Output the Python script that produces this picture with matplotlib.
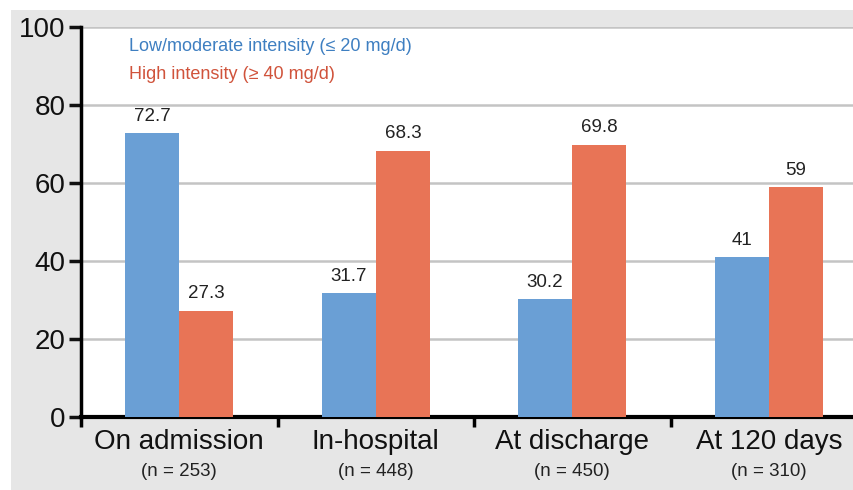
import matplotlib.pyplot as plt
from matplotlib.patches import Rectangle
import numpy as np

plt.rcParams['font.family'] = ['Liberation Sans', 'DejaVu Sans']

periods = ["On admission", "In-hospital", "At discharge", "At 120 days"]
n_labels = ["(n = 253)", "(n = 448)", "(n = 450)", "(n = 310)"]
low_mod = [72.7, 31.7, 30.2, 41]
high = [27.3, 68.3, 69.8, 59]
low_txt = ["72.7", "31.7", "30.2", "41"]
high_txt = ["27.3", "68.3", "69.8", "59"]

blue = "#6a9fd5"
orange = "#e87456"

fig = plt.figure(figsize=(8.54, 4.90), dpi=100)
fig.patch.set_facecolor("white")
# grey panel behind the chart
fig.add_artist(Rectangle((11/854, 0), 1, 1 - 10/490, transform=fig.transFigure,
                         facecolor="#e6e6e6", edgecolor="none", zorder=-5))

ax = fig.add_axes([81/854, 73/490, 786/854, 390/490])
ax.set_facecolor("white")

x = np.arange(len(periods))
w = 0.276
b1 = ax.bar(x - w/2, low_mod, w, color=blue, zorder=3)
b2 = ax.bar(x + w/2, high, w, color=orange, zorder=3)

for rect, t in zip(b1, low_txt):
    ax.annotate(t, (rect.get_x() + rect.get_width()/2, rect.get_height()),
                xytext=(0, 6), textcoords="offset points", ha="center", va="bottom",
                fontsize=13.5, color="#222222", zorder=4)
for rect, t in zip(b2, high_txt):
    ax.annotate(t, (rect.get_x() + rect.get_width()/2, rect.get_height()),
                xytext=(0, 6), textcoords="offset points", ha="center", va="bottom",
                fontsize=13.5, color="#222222", zorder=4)

ax.set_xlim(-0.5, 3.5)
ax.set_ylim(0, 100)
ax.set_yticks([0, 20, 40, 60, 80, 100])
ax.set_yticklabels(["0", "20", "40", "60", "80", "100"], fontsize=20)
ax.set_xticks([-0.5, 0.5, 1.5, 2.5, 3.5])
ax.set_xticklabels([])
for yv in [20, 40, 60, 80, 100]:
    ax.axhline(yv, color="#c4c4c4", lw=1.8, zorder=1)

ax.tick_params(axis="y", direction="out", length=9, width=2.5, pad=2, colors="#111111")
ax.tick_params(axis="x", direction="out", length=7, width=2.5)
for s in ["top", "right"]:
    ax.spines[s].set_visible(False)
ax.spines["left"].set_linewidth(2.5)
ax.spines["bottom"].set_linewidth(3)

for i in range(len(periods)):
    ax.text(i, -0.065, periods[i], transform=ax.get_xaxis_transform(),
            ha="center", va="center", fontsize=20, color="#111111")
    ax.text(i, -0.14, n_labels[i], transform=ax.get_xaxis_transform(),
            ha="center", va="center", fontsize=13.5, color="#222222",
            family=['Liberation Sans Narrow', 'Liberation Sans', 'DejaVu Sans'])

ax.text(0.061, 0.951, "Low/moderate intensity (\u2264 20 mg/d)", transform=ax.transAxes,
        ha="left", va="center", fontsize=13, color="#3e7fc1")
ax.text(0.061, 0.877, "High intensity (\u2265 40 mg/d)", transform=ax.transAxes,
        ha="left", va="center", fontsize=13, color="#d0533b")

fig.savefig("out.png", dpi=100)
